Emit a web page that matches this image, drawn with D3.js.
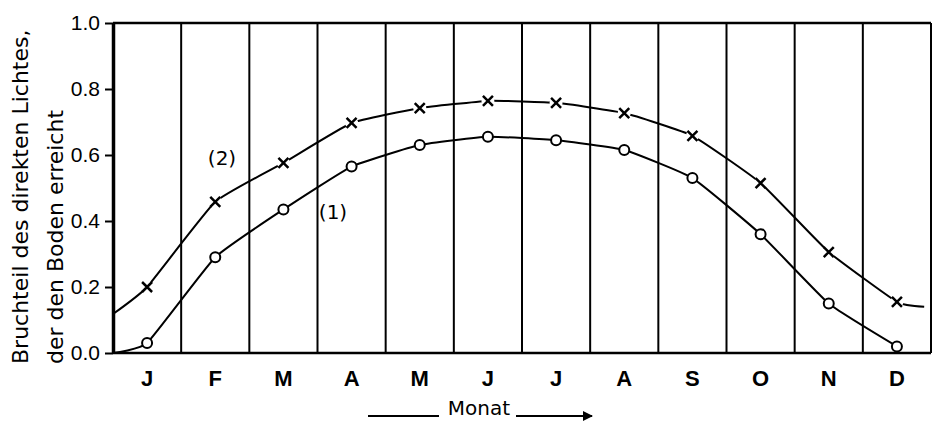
<!DOCTYPE html>
<html>
<head>
<meta charset="utf-8">
<script src="https://cdn.jsdelivr.net/npm/d3@7"></script>
<style>
  body { margin: 0; background: #fff; }
  svg { display: block; font-family: "DejaVu Sans", sans-serif; }
</style>
</head>
<body>
<div id="chart"></div>
<script>
const width = 938;
const height = 422;

// month labels (bands), values read at band centres
const months = ["J", "F", "M", "A", "M", "J", "J", "A", "S", "O", "N", "D"];
const series1 = [0.03, 0.29, 0.435, 0.565, 0.63, 0.655, 0.645, 0.615, 0.53, 0.36, 0.15, 0.02];
const series2 = [0.20, 0.458, 0.576, 0.697, 0.742, 0.764, 0.758, 0.727, 0.658, 0.515, 0.306, 0.155];
// curve ends at the frame (month units, value)
const series1Ends = [[0, 0.0]];
const series2Ends = [[0, 0.118], [11.9, 0.14]];
const yTicks = [0, 0.2, 0.4, 0.6, 0.8, 1.0];

const margin = { top: 23, right: 7, bottom: 69, left: 113 };

const svg = d3.select("#chart")
    .append("svg")
    .attr("width", width)
    .attr("height", height)
    .attr("viewBox", [0, 0, width, height]);

const x = d3.scaleLinear()
    .domain([0, 12])
    .range([margin.left, width - margin.right]);

const y = d3.scaleLinear()
    .domain([0, 1])
    .range([height - margin.bottom, margin.top]);

// vertical month boundaries
svg.append("g")
    .selectAll("line")
    .data(d3.range(1, 13))
    .join("line")
    .attr("x1", d => x(d))
    .attr("x2", d => x(d))
    .attr("y1", y(1))
    .attr("y2", y(0))
    .attr("stroke", "#000")
    .attr("stroke-width", 2);

// top frame
svg.append("line")
    .attr("x1", x(0)).attr("x2", x(12))
    .attr("y1", y(1)).attr("y2", y(1))
    .attr("stroke", "#000").attr("stroke-width", 2.5);

// bottom axis line
svg.append("line")
    .attr("x1", x(0)).attr("x2", x(12))
    .attr("y1", y(0)).attr("y2", y(0))
    .attr("stroke", "#000").attr("stroke-width", 2.5);

// y axis
const yAxis = svg.append("g")
    .attr("transform", `translate(${x(0)},0)`)
    .call(d3.axisLeft(y)
        .tickValues(yTicks)
        .tickFormat(d3.format(".1f"))
        .tickSize(8)
        .tickSizeOuter(0)
        .tickPadding(5));
yAxis.select(".domain").attr("stroke-width", 3.5);
yAxis.selectAll(".tick line").attr("stroke-width", 2);
yAxis.selectAll("text")
    .attr("font-size", 21)
    .attr("fill", "#000")
    .attr("font-family", "Liberation Sans, Arial, sans-serif");

// month labels
svg.append("g")
    .selectAll("text")
    .data(months)
    .join("text")
    .attr("x", (d, i) => x(i + 0.5))
    .attr("y", y(0) + 33)
    .attr("text-anchor", "middle")
    .attr("font-family", "Liberation Sans, Arial, sans-serif")
    .attr("font-size", 22)
    .attr("font-weight", "bold")
    .text(d => d);

// y axis title (two rotated lines)
const yTitle = ["Bruchteil des direkten Lichtes,", "der den Boden erreicht"];
svg.append("g")
    .selectAll("text")
    .data(yTitle)
    .join("text")
    .attr("transform", (d, i) => `translate(${28 + i * 35},364) rotate(-90)`)
    .attr("font-size", 22)
    .text(d => d);

// x axis title with arrows
svg.append("defs").append("marker")
    .attr("id", "arrowhead")
    .attr("viewBox", "0 -5 10 10")
    .attr("refX", 9)
    .attr("refY", 0)
    .attr("orient", "auto")
    .attr("markerWidth", 5)
    .attr("markerHeight", 5)
    .append("path")
    .attr("d", "M 0,-5 L 10,0 L 0,5 Z")
    .attr("fill", "#000");

svg.append("line")
    .attr("x1", 368).attr("x2", 439)
    .attr("y1", 416).attr("y2", 416)
    .attr("stroke", "#000").attr("stroke-width", 2);
svg.append("text")
    .attr("x", 479).attr("y", 415)
    .attr("text-anchor", "middle")
    .attr("font-size", 20)
    .text("Monat");
svg.append("line")
    .attr("x1", 516).attr("x2", 592)
    .attr("y1", 416).attr("y2", 416)
    .attr("stroke", "#000").attr("stroke-width", 2)
    .attr("marker-end", "url(#arrowhead)");

// curves
const line = d3.line()
    .x(d => x(d[0]))
    .y(d => y(d[1]))
    .curve(d3.curveCardinal.tension(0.6));

const pts1 = series1.map((v, i) => [i + 0.5, v]);
const pts2 = series2.map((v, i) => [i + 0.5, v]);
const path1 = [series1Ends[0], ...pts1];
const path2 = [series2Ends[0], ...pts2, series2Ends[1]];

[path1, path2].forEach(p => {
    svg.append("path")
        .datum(p)
        .attr("d", line)
        .attr("fill", "none")
        .attr("stroke", "#000")
        .attr("stroke-width", 2);
});

// markers: circles for (1)
svg.append("g")
    .selectAll("circle")
    .data(pts1)
    .join("circle")
    .attr("cx", d => x(d[0]))
    .attr("cy", d => y(d[1]))
    .attr("r", 5)
    .attr("fill", "#fff")
    .attr("stroke", "#000")
    .attr("stroke-width", 2);

// markers: crosses for (2)
const cross = svg.append("g")
    .selectAll("g")
    .data(pts2)
    .join("g")
    .attr("transform", d => `translate(${x(d[0])},${y(d[1])})`);
cross.append("circle")
    .attr("r", 6.5)
    .attr("fill", "#fff");
cross.append("path")
    .attr("d", "M-5,-5L5,5M-5,5L5,-5")
    .attr("stroke", "#000")
    .attr("stroke-width", 2.5);

// series labels
svg.append("text")
    .attr("x", 222).attr("y", 165)
    .attr("text-anchor", "middle")
    .attr("font-size", 20)
    .text("(2)");
svg.append("text")
    .attr("x", 333).attr("y", 219)
    .attr("text-anchor", "middle")
    .attr("font-size", 20)
    .text("(1)");
</script>
</body>
</html>
